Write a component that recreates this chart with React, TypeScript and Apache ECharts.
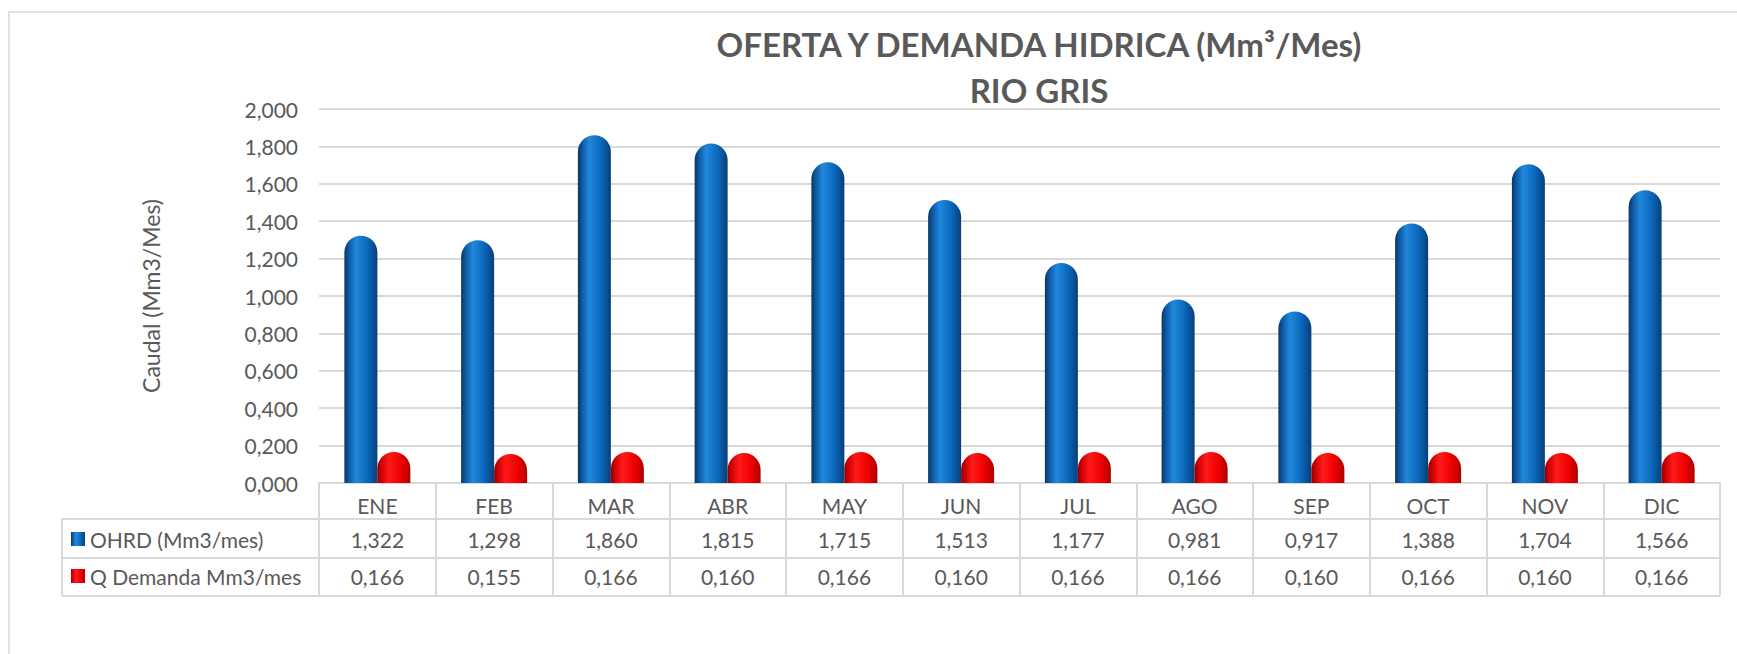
import React, { useEffect, useRef } from "react";
import * as echarts from "echarts";

const titleLine1 = "OFERTA Y DEMANDA HIDRICA (Mm³/Mes)";
const titleLine2 = "RIO GRIS";
const yAxisName = "Caudal (Mm3/Mes)";
const months = ["ENE", "FEB", "MAR", "ABR", "MAY", "JUN", "JUL", "AGO", "SEP", "OCT", "NOV", "DIC"];
const seriesNames = ["OHRD (Mm3/mes)", "Q Demanda Mm3/mes"];
const ohrd = [1.322, 1.298, 1.86, 1.815, 1.715, 1.513, 1.177, 0.981, 0.917, 1.388, 1.704, 1.566];
const qDemanda = [0.166, 0.155, 0.166, 0.16, 0.166, 0.16, 0.166, 0.166, 0.16, 0.166, 0.16, 0.166];
const yMin = 0;
const yMax = 2;
const yInterval = 0.2;

const fmt = (v: number) => v.toFixed(3).replace(".", ",");

const FONT = "Lato, 'Open Sans', sans-serif";
const TXT = "#595959";
const LINE = "#d9d9d9";

const W = 1737;
const H = 654;
const G_LEFT = 319;
const G_RIGHT = 1720;
const G_TOP = 109;
const G_BOTTOM = 483;
const ROW1 = 519;
const ROW2 = 558;
const ROW3 = 596;
const LEG_LEFT = 62;
const FS = 21;

const blueGrad = new echarts.graphic.LinearGradient(0, 0, 1, 0, [
  { offset: 0, color: "#0a3560" },
  { offset: 0.12, color: "#0d56a0" },
  { offset: 0.35, color: "#2088dc" },
  { offset: 0.7, color: "#0b67bb" },
  { offset: 1, color: "#073f78" },
]);
const redGrad = new echarts.graphic.LinearGradient(0, 0, 1, 0, [
  { offset: 0, color: "#8a0000" },
  { offset: 0.12, color: "#d00000" },
  { offset: 0.35, color: "#ff1a1a" },
  { offset: 0.7, color: "#f00000" },
  { offset: 1, color: "#b00000" },
]);

export default function App() {
  const ref = useRef<HTMLDivElement>(null);
  useEffect(() => {
    document.body.style.margin = "0";
    const chart = echarts.init(ref.current!, null, { renderer: "svg" });
    const hLine = (x1: number, x2: number, y: number) => ({
      type: "line",
      shape: { x1, y1: y, x2, y2: y },
      style: { stroke: LINE, lineWidth: 2 },
      silent: true,
    });
    const rowLabel = (margin: number) => ({
      margin,
      fontSize: FS,
      lineHeight: FS,
      color: TXT,
      fontFamily: FONT,
      interval: 0,
    });
    chart.setOption({
      animation: false,
      textStyle: { fontFamily: FONT },
      grid: { left: G_LEFT, right: W - G_RIGHT, top: G_TOP, bottom: H - G_BOTTOM, containLabel: false },
      legend: {
        orient: "vertical",
        left: 71,
        top: 528.5,
        padding: 0,
        itemGap: 16,
        itemWidth: 14,
        itemHeight: 14,
        icon: "rect",
        data: seriesNames,
        textStyle: { fontSize: FS, color: TXT, fontFamily: FONT, lineHeight: FS },
        selectedMode: false,
      },
      xAxis: [
        {
          type: "category",
          data: months,
          position: "bottom",
          axisLine: { show: true, lineStyle: { color: LINE, width: 2 } },
          axisTick: { show: true, length: ROW3 - G_BOTTOM, interval: 0, lineStyle: { color: LINE, width: 2 } },
          axisLabel: rowLabel(12),
        },
        {
          type: "category",
          data: ohrd.map(fmt),
          position: "bottom",
          offset: ROW1 - G_BOTTOM,
          axisLine: { show: false },
          axisTick: { show: false },
          axisLabel: rowLabel(10),
        },
        {
          type: "category",
          data: qDemanda.map(fmt),
          position: "bottom",
          offset: ROW2 - G_BOTTOM,
          axisLine: { show: false },
          axisTick: { show: false },
          axisLabel: rowLabel(8),
        },
      ],
      yAxis: {
        type: "value",
        min: yMin,
        max: yMax,
        interval: yInterval,
        name: yAxisName,
        nameLocation: "middle",
        nameGap: 157,
        nameTextStyle: { fontSize: 23, color: TXT, fontFamily: FONT },
        axisLine: { show: false },
        axisTick: { show: false },
        axisLabel: { margin: 21, fontSize: FS, color: TXT, fontFamily: FONT, formatter: (v: number) => fmt(v) },
        splitLine: { lineStyle: { color: LINE, width: 2 } },
      },
      series: [
        {
          name: seriesNames[0],
          type: "bar",
          xAxisIndex: 0,
          data: ohrd,
          barWidth: 33,
          barGap: "0%",
          itemStyle: { color: blueGrad, borderRadius: [16.5, 16.5, 0, 0] },
        },
        {
          name: seriesNames[1],
          type: "bar",
          xAxisIndex: 0,
          data: qDemanda,
          barWidth: 33,
          barGap: "0%",
          itemStyle: { color: redGrad, borderRadius: [16.5, 16.5, 0, 0] },
        },
      ],
      graphic: [
        {
          type: "rect",
          shape: { x: 9, y: 12, width: 1760, height: 700 },
          style: { fill: "none", stroke: LINE, lineWidth: 1.5 },
          silent: true,
          z: -10,
        },
        {
          type: "text",
          x: 1039,
          y: 44,
          style: {
            text: titleLine1,
            fill: TXT,
            font: `bold 33px ${FONT}`,
            align: "center",
            verticalAlign: "middle",
            textAlign: "center",
            textVerticalAlign: "middle",
          },
        },
        {
          type: "text",
          x: 1039,
          y: 90,
          style: {
            text: titleLine2,
            fill: TXT,
            font: `bold 33px ${FONT}`,
            align: "center",
            verticalAlign: "middle",
            textAlign: "center",
            textVerticalAlign: "middle",
          },
        },
        hLine(LEG_LEFT, G_RIGHT, ROW1),
        hLine(LEG_LEFT, G_RIGHT, ROW2),
        hLine(LEG_LEFT, G_RIGHT, ROW3),
        {
          type: "line",
          shape: { x1: LEG_LEFT, y1: ROW1, x2: LEG_LEFT, y2: ROW3 },
          style: { stroke: LINE, lineWidth: 2 },
          silent: true,
        },
      ],
    });
    return () => chart.dispose();
  }, []);
  return <div ref={ref} style={{ position: "absolute", left: 0, top: 0, width: W, height: H }} />;
}
